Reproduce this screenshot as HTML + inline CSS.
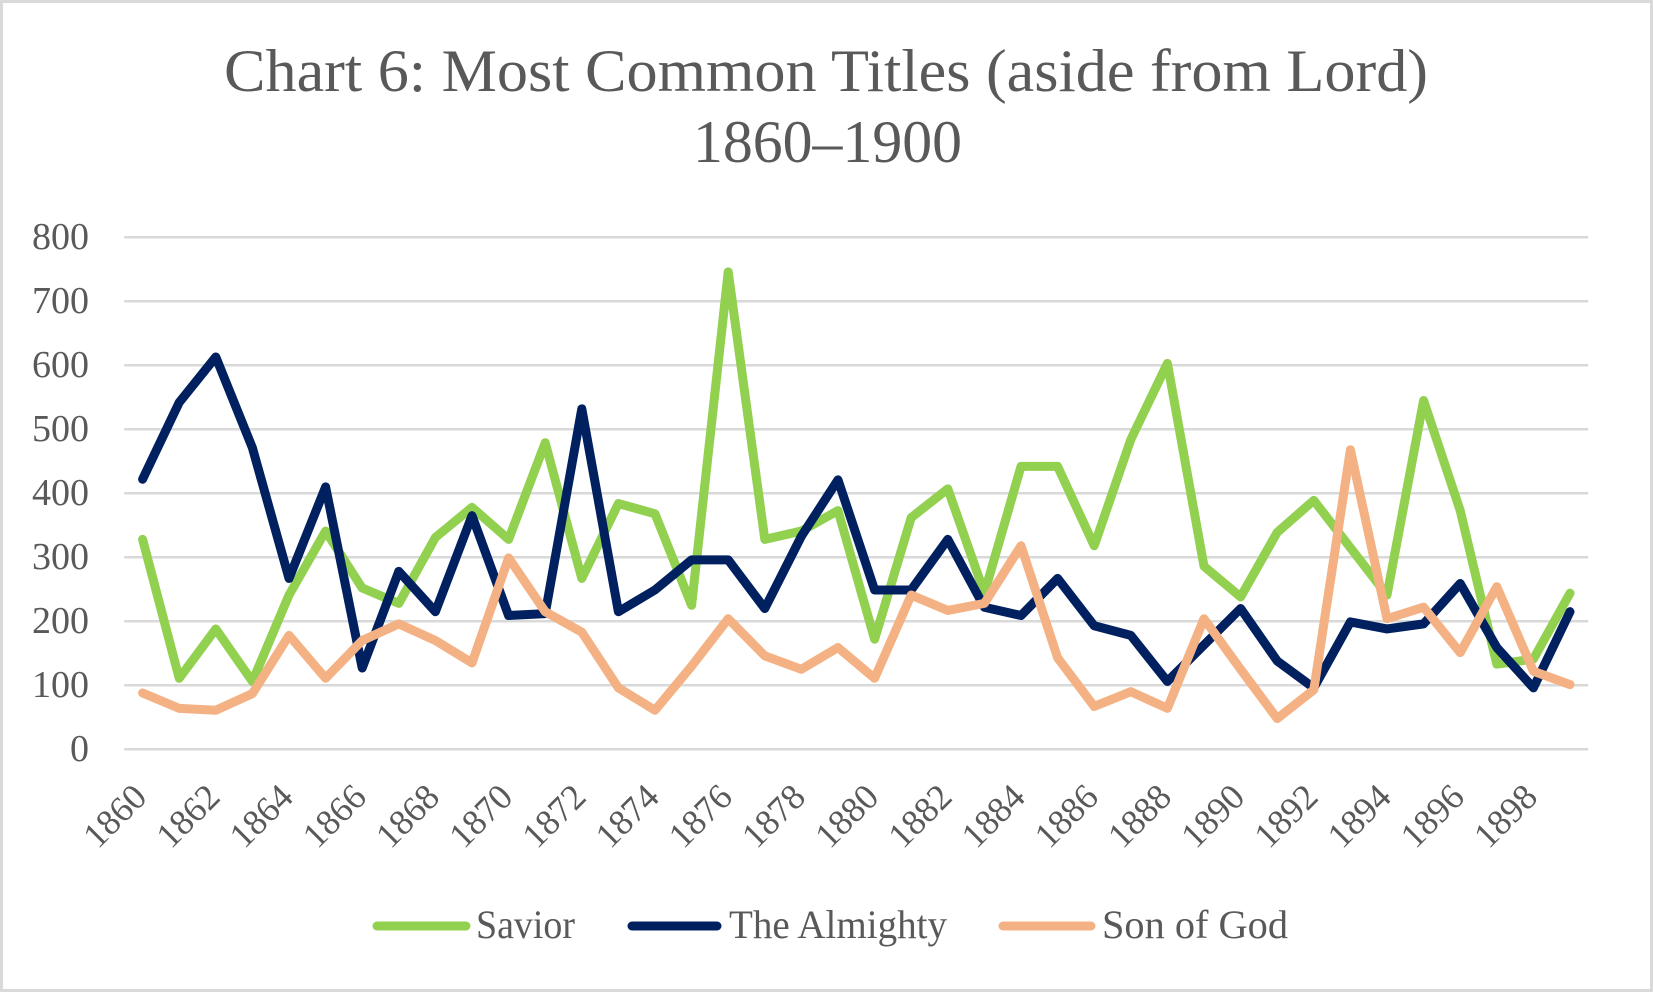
<!DOCTYPE html>
<html>
<head>
<meta charset="utf-8">
<style>
  html, body { margin: 0; padding: 0; background: #ffffff; }
  body { width: 1653px; height: 992px; overflow: hidden; }
  svg { display: block; }
  text { font-family: "Liberation Serif", "DejaVu Serif", serif; fill: #595959; }
</style>
</head>
<body>
<svg width="1653" height="992" viewBox="0 0 1653 992" xmlns="http://www.w3.org/2000/svg">
  <rect x="0" y="0" width="1653" height="992" fill="#ffffff"/>
  <rect x="1.5" y="1.5" width="1650" height="989" fill="none" stroke="#d9d9d9" stroke-width="3"/>

  <!-- Title -->
  <text x="224" y="91" font-size="60" textLength="1204" lengthAdjust="spacingAndGlyphs">Chart 6: Most Common Titles (aside from Lord)</text>
  <text x="693" y="162" font-size="60" textLength="269" lengthAdjust="spacingAndGlyphs">1860–1900</text>

  <!-- Gridlines -->
  <g stroke="#d9d9d9" stroke-width="2.5">
    <line x1="124.3" y1="237.3" x2="1588.3" y2="237.3"/>
    <line x1="124.3" y1="301.3" x2="1588.3" y2="301.3"/>
    <line x1="124.3" y1="365.3" x2="1588.3" y2="365.3"/>
    <line x1="124.3" y1="429.3" x2="1588.3" y2="429.3"/>
    <line x1="124.3" y1="493.3" x2="1588.3" y2="493.3"/>
    <line x1="124.3" y1="557.3" x2="1588.3" y2="557.3"/>
    <line x1="124.3" y1="621.3" x2="1588.3" y2="621.3"/>
    <line x1="124.3" y1="685.3" x2="1588.3" y2="685.3"/>
    <line x1="124.3" y1="749.3" x2="1588.3" y2="749.3"/>
  </g>

  <!-- Y axis labels -->
  <g font-size="38" text-anchor="end">
    <text x="89" y="249">800</text>
    <text x="89" y="313">700</text>
    <text x="89" y="377">600</text>
    <text x="89" y="441">500</text>
    <text x="89" y="505">400</text>
    <text x="89" y="569">300</text>
    <text x="89" y="633">200</text>
    <text x="89" y="697">100</text>
    <text x="89" y="761">0</text>
  </g>

  <!-- X axis labels -->
  <g font-size="36" text-anchor="end">
    <text transform="translate(148.6,799) rotate(-45)">1860</text>
    <text transform="translate(221.8,799) rotate(-45)">1862</text>
    <text transform="translate(295.0,799) rotate(-45)">1864</text>
    <text transform="translate(368.2,799) rotate(-45)">1866</text>
    <text transform="translate(441.4,799) rotate(-45)">1868</text>
    <text transform="translate(514.6,799) rotate(-45)">1870</text>
    <text transform="translate(587.8,799) rotate(-45)">1872</text>
    <text transform="translate(661.0,799) rotate(-45)">1874</text>
    <text transform="translate(734.2,799) rotate(-45)">1876</text>
    <text transform="translate(807.4,799) rotate(-45)">1878</text>
    <text transform="translate(880.6,799) rotate(-45)">1880</text>
    <text transform="translate(953.8,799) rotate(-45)">1882</text>
    <text transform="translate(1027.0,799) rotate(-45)">1884</text>
    <text transform="translate(1100.2,799) rotate(-45)">1886</text>
    <text transform="translate(1173.4,799) rotate(-45)">1888</text>
    <text transform="translate(1246.6,799) rotate(-45)">1890</text>
    <text transform="translate(1319.8,799) rotate(-45)">1892</text>
    <text transform="translate(1393.0,799) rotate(-45)">1894</text>
    <text transform="translate(1466.2,799) rotate(-45)">1896</text>
    <text transform="translate(1539.4,799) rotate(-45)">1898</text>
  </g>

  <!-- Series -->
  <g transform="translate(142.6 749.3) scale(36.6 -0.64)" fill="none" stroke-linejoin="round" stroke-linecap="round">
    <polyline vector-effect="non-scaling-stroke" stroke="#92d050" stroke-width="9"
      points="0,328 1,111 2,188 3,106 4,241 5,341 6,252 7,228 8,331 9,378 10,328 11,479 12,267 13,384 14,368 15,225 16,746 17,328 18,341 19,373 20,172 21,362 22,407 23,244 24,442 25,442 26,318 27,484 28,603 29,286 30,238 31,339 32,389 33,315 34,241 35,545 36,373 37,133 38,141 39,244"/>
    <polyline vector-effect="non-scaling-stroke" stroke="#002060" stroke-width="9"
      points="0,422 1,542 2,613 3,471 4,267 5,410 6,127 7,278 8,215 9,365 10,209 11,212 12,532 13,215 14,249 15,296 16,296 17,220 18,333 19,421 20,249 21,249 22,328 23,222 24,209 25,267 26,193 27,178 28,106 29,163 30,220 31,138 32,96 33,199 34,188 35,196 36,259 37,159 38,96 39,215"/>
    <polyline vector-effect="non-scaling-stroke" stroke="#f4b183" stroke-width="9"
      points="0,88 1,64 2,61 3,87 4,178 5,111 6,170 7,196 8,170 9,135 10,299 11,215 12,183 13,96 14,61 15,130 16,204 17,146 18,125 19,159 20,111 21,241 22,217 23,228 24,318 25,143 26,67 27,90 28,64 29,204 30,125 31,48 32,93 33,468 34,204 35,222 36,151 37,254 38,122 39,101"/>
  </g>

  <!-- Legend -->
  <g stroke-width="9" stroke-linecap="round">
    <line x1="377" y1="926" x2="466" y2="926" stroke="#92d050"/>
    <line x1="632" y1="926" x2="717" y2="926" stroke="#002060"/>
    <line x1="1003" y1="926" x2="1091" y2="926" stroke="#f4b183"/>
  </g>
  <g font-size="40">
    <text x="476" y="938" textLength="99" lengthAdjust="spacingAndGlyphs">Savior</text>
    <text x="729" y="938" textLength="218" lengthAdjust="spacingAndGlyphs">The Almighty</text>
    <text x="1102" y="938" textLength="186" lengthAdjust="spacingAndGlyphs">Son of God</text>
  </g>
</svg>
</body>
</html>
